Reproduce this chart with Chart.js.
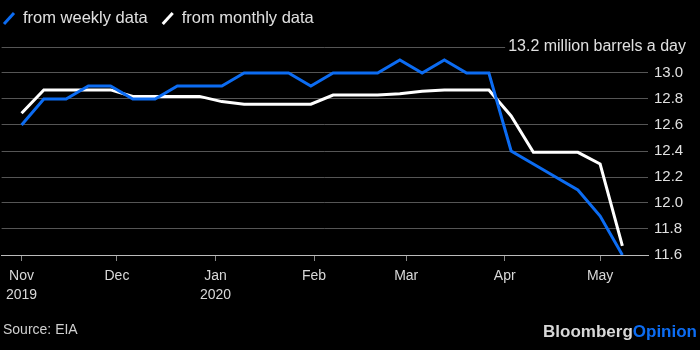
<!DOCTYPE html>
<html>
<head>
<meta charset="utf-8">
<script src="https://cdn.jsdelivr.net/npm/chart.js@4"></script>
<style>
    html, body { margin: 0; padding: 0; background: #000; }
</style>
</head>
<body>
<canvas id="myChart" width="700" height="350"></canvas>
<script>
/* US crude output, weekly vs monthly EIA numbers (million barrels a day).
 */

// week ending dates (Fridays)
var weeks = [
    '2019-11-01', '2019-11-08', '2019-11-15', '2019-11-22', '2019-11-29',
    '2019-12-06', '2019-12-13', '2019-12-20', '2019-12-27',
    '2020-01-03', '2020-01-10', '2020-01-17', '2020-01-24', '2020-01-31',
    '2020-02-07', '2020-02-14', '2020-02-21', '2020-02-28',
    '2020-03-06', '2020-03-13', '2020-03-20', '2020-03-27',
    '2020-04-03', '2020-04-10', '2020-04-17', '2020-04-24',
    '2020-05-01', '2020-05-08'
];

var weeklyData = [
    12.6, 12.8, 12.8, 12.9, 12.9,
    12.8, 12.8, 12.9, 12.9,
    12.9, 13.0, 13.0, 13.0, 12.9,
    13.0, 13.0, 13.0, 13.1,
    13.0, 13.1, 13.0, 13.0,
    12.4, 12.3, 12.2, 12.1,
    11.9, 11.6
];

var monthlyData = [
    12.69, 12.87, 12.87, 12.87, 12.87,
    12.82, 12.82, 12.82, 12.82,
    12.78, 12.76, 12.76, 12.76, 12.76,
    12.83, 12.83, 12.83, 12.84,
    12.86, 12.87, 12.87, 12.87,
    12.67, 12.39, 12.39, 12.39,
    12.30, 11.67
];

var seriesNames = ['from weekly data', 'from monthly data'];

var monthTicks = ['2019-11-01', '2019-12-01', '2020-01-01', '2020-02-01', '2020-03-01', '2020-04-01', '2020-05-01'];
var monthLabels = [['Nov', '2019'], 'Dec', ['Jan', '2020'], 'Feb', 'Mar', 'Apr', 'May'];

var yMin = 11.6;
var yMax = 13.2;
var unitLabel = '13.2 million barrels a day';
var sourceText = 'Source: EIA';

var FONT = '"Liberation Sans", Arial, Helvetica, sans-serif';
var BLUE = '#0c6cf2';

// days since Nov 1 2019, used as x on a linear scale
function dayNum(s) {
    var p = s.split('-').map(Number);
    return (Date.UTC(p[0], p[1] - 1, p[2]) - Date.UTC(2019, 10, 1)) / 864e5;
}

var xs = weeks.map(dayNum);
var tickDays = monthTicks.map(dayNum);

function points(vals) {
    return vals.map((v, i) => ({ x: xs[i], y: v }));
}

var extras = {
    id: 'extras',
    afterDraw(chart) {
        var ctx = chart.ctx;
        var yScale = chart.scales.y;
        ctx.save();

        // unit label sitting on the top gridline
        var py = yScale.getPixelForValue(yMax);
        var right = chart.width - 14;
        ctx.font = '16px ' + FONT;
        ctx.textBaseline = 'middle';
        ctx.textAlign = 'right';
        var w = ctx.measureText(unitLabel).width;
        ctx.fillStyle = '#000';
        ctx.fillRect(right - w - 3, py - 10, w + 20, 20);
        ctx.fillStyle = '#e0e0e0';
        ctx.fillText(unitLabel, right, py);

        // legend with slanted line markers
        ctx.textAlign = 'left';
        ctx.textBaseline = 'alphabetic';
        ctx.font = '16.5px ' + FONT;
        var x = 4;
        chart.data.datasets.forEach(ds => {
            ctx.strokeStyle = ds.borderColor;
            ctx.lineWidth = 3;
            ctx.beginPath();
            ctx.moveTo(x, 24);
            ctx.lineTo(x + 10, 13);
            ctx.stroke();
            ctx.fillStyle = '#e0e0e0';
            ctx.fillText(ds.label, x + 19, 23);
            x += 19 + ctx.measureText(ds.label).width + 15;
        });

        // footer
        ctx.font = '14px ' + FONT;
        ctx.textBaseline = 'middle';
        ctx.fillStyle = '#d0d0d0';
        ctx.fillText(sourceText, 3, 330);

        ctx.font = 'bold 17px ' + FONT;
        ctx.textAlign = 'right';
        var wo = ctx.measureText('Opinion').width;
        ctx.fillStyle = BLUE;
        ctx.fillText('Opinion', 697, 332);
        ctx.fillStyle = '#d8d8d8';
        ctx.fillText('Bloomberg', 697 - wo, 332);

        ctx.restore();
    }
};

const config = {
    type: 'line',
    data: {
        datasets: [
            {
                label: seriesNames[0],
                data: points(weeklyData),
                borderColor: BLUE,
                backgroundColor: BLUE,
                borderWidth: 3,
                pointRadius: 0,
                tension: 0
            },
            {
                label: seriesNames[1],
                data: points(monthlyData),
                borderColor: '#ffffff',
                backgroundColor: '#ffffff',
                borderWidth: 3,
                pointRadius: 0,
                tension: 0
            }
        ]
    },
    options: {
        responsive: false,
        animation: false,
        layout: {
            padding: { top: 47, bottom: 40, left: 0, right: 0 }
        },
        plugins: {
            legend: { display: false },
            tooltip: { enabled: false }
        },
        scales: {
            x: {
                type: 'linear',
                min: -6.28,
                max: 197.06,
                afterBuildTicks: axis => {
                    axis.ticks = tickDays.map(v => ({ value: v }));
                },
                afterFit: axis => { axis.height = 55; },
                ticks: {
                    autoSkip: false,
                    maxRotation: 0,
                    padding: 6,
                    color: '#d8d8d8',
                    font: { family: FONT, size: 14, lineHeight: 1.35 },
                    callback: (v, i) => monthLabels[i]
                },
                grid: {
                    drawOnChartArea: false,
                    drawTicks: true,
                    tickLength: 6,
                    color: '#888'
                },
                border: { color: '#bbbbbb', width: 1 }
            },
            y: {
                position: 'right',
                min: yMin,
                max: yMax,
                afterFit: axis => { axis.width = 52; },
                ticks: {
                    stepSize: 0.2,
                    padding: 6,
                    color: '#e0e0e0',
                    font: { family: FONT, size: 15 },
                    callback: v => Math.abs(v - yMax) < 1e-6 ? '' : v.toFixed(1)
                },
                grid: {
                    drawTicks: false,
                    color: c => (c.tick && Math.abs(c.tick.value - yMin) < 1e-6) ? 'rgba(0,0,0,0)' : '#555555',
                    lineWidth: 1
                },
                border: { display: false }
            }
        }
    },
    plugins: [extras]
};

var myChart = new Chart(document.getElementById('myChart'), config);
</script>
</body>
</html>
